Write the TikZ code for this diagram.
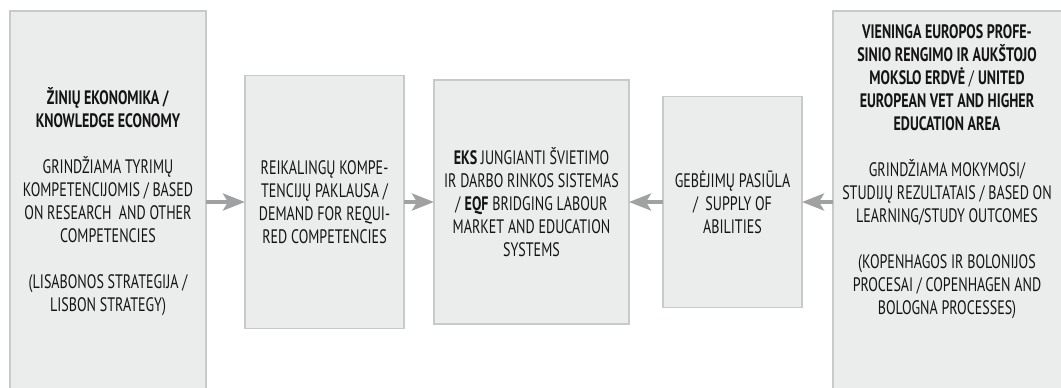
\documentclass[tikz,border=0pt]{standalone}
\usepackage{fontspec}
\setmainfont{PT Sans}[FakeStretch=0.72]
\usepackage{tikz}
\usetikzlibrary{arrows.meta,positioning}

\definecolor{boxfill}{RGB}{235,236,236}
\definecolor{boxline}{RGB}{200,201,201}
\definecolor{flowgray}{RGB}{160,161,163}
\definecolor{inkgray}{RGB}{20,20,20}

\begin{document}
\begin{tikzpicture}[x=1pt,y=-1pt]
        \tikzstyle{layer}=[rectangle, draw=boxline, line width=1.8pt, fill=boxfill, outer sep=0pt, align=center, text=inkgray, font=\fontsize{19.5}{23}\selectfont]
        \tikzstyle{flow}=[-{Stealth[length=22pt,width=17pt,inset=5pt]}, draw=flowgray, fill=flowgray, line width=4pt]

        \useasboundingbox (0,0) rectangle (1061,388);
        \clip (0,0) rectangle (1061,388);

        % Knowledge economy
        \node (econ) [layer, minimum width=196pt, minimum height=382pt] at (108,202) {\textbf{ŽINIŲ EKONOMIKA /}\\ \textbf{KNOWLEDGE ECONOMY}\\[23pt] GRINDŽIAMA TYRIMŲ\\ KOMPETENCIJOMIS / BASED\\ ON RESEARCH \ AND OTHER\\ COMPETENCIES\\[23pt] (LISABONOS STRATEGIJA /\\ LISBON STRATEGY)};

        % Demand
        \node (demand) [layer, minimum width=159pt, minimum height=253pt, right = 39pt of econ] {REIKALINGŲ KOMPE-\\ TENCIJŲ PAKLAUSA /\\ DEMAND FOR REQUI-\\ RED COMPETENCIES};

        % EQF
        \node (eqf) [layer, minimum width=195pt, minimum height=244pt, right = 30pt of demand] {\textbf{EKS} JUNGIANTI ŠVIETIMO\\ IR DARBO RINKOS SISTEMAS\\ / \textbf{EQF} BRIDGING LABOUR\\ MARKET AND EDUCATION\\ SYSTEMS};

        % Supply
        \node (supply) [layer, minimum width=139pt, minimum height=211pt, right = 34pt of eqf] {GEBĖJIMŲ PASIŪLA\\ / \ SUPPLY OF\\ ABILITIES};

        % European area
        \node (area) [layer, minimum width=240pt, minimum height=382pt, right = 31pt of supply] {};
        \node (areatext) [align=center, text=inkgray, font=\fontsize{19.5}{23}\selectfont, xshift=-6pt, yshift=30pt] at (area.center) {\textbf{VIENINGA EUROPOS PROFE-}\\ \textbf{SINIO RENGIMO IR AUKŠTOJO}\\ \textbf{MOKSLO ERDVĖ} / \textbf{UNITED}\\ \textbf{EUROPEAN VET AND HIGHER}\\ \textbf{EDUCATION AREA}\\[23pt] GRINDŽIAMA MOKYMOSI/\\ STUDIJŲ REZULTATAIS / BASED ON\\ LEARNING/STUDY OUTCOMES\\[23pt] (KOPENHAGOS IR BOLONIJOS\\ PROCESAI / COPENHAGEN AND\\ BOLOGNA PROCESSES)};

        % Arrows
        \draw[flow] (econ) -- (demand);
        \draw[flow] (demand) -- (eqf);
        \draw[flow] (supply) -- (eqf);
        \draw[flow] (area) -- (supply);
    \end{tikzpicture}
\end{document}
